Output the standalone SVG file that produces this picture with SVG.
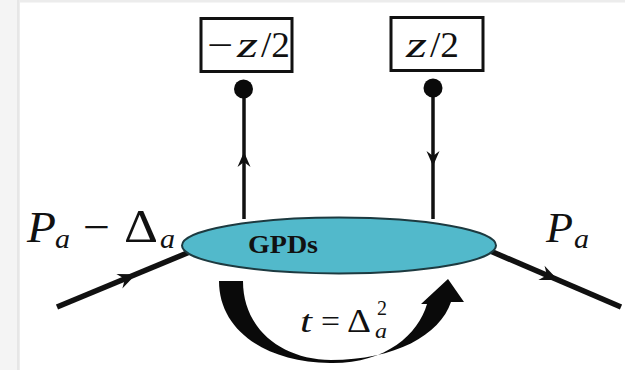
<svg xmlns="http://www.w3.org/2000/svg" width="625" height="370" viewBox="0 0 625 370">
<defs>
<style>
.math{font-family:"Liberation Serif","DejaVu Serif",serif;fill:#111}
.ln{stroke:#111;fill:none;stroke-linecap:butt}
.box{fill:#fff;stroke:#111;stroke-width:3}
</style>
<polygon id="ah" points="0,0 -15,-6.5 -10,0 -15,6.5" fill="#111"/>
</defs>
<rect x="0" y="0" width="625" height="370" fill="#fff"/>
<rect x="0" y="0" width="20" height="370" fill="#f4f4f4"/>
<rect x="17" y="0" width="2.5" height="370" fill="#e6e6e6"/>
<rect x="20" y="0" width="605" height="2.5" fill="#ececec"/>

<g id="connectors">
<line class="ln" x1="244" y1="95" x2="244" y2="219" stroke-width="3.5"/>
<use href="#ah" transform="translate(244,152) rotate(-90)"/>
<line class="ln" x1="433" y1="95" x2="433" y2="219" stroke-width="3.5"/>
<use href="#ah" transform="translate(433,166) rotate(90)"/>
<line class="ln" x1="57" y1="307" x2="192" y2="251" stroke-width="5.5"/>
<use href="#ah" transform="translate(136,274.3) rotate(-22.5) scale(1.2)"/>
<line class="ln" x1="488" y1="250" x2="621" y2="307" stroke-width="5.5"/>
<use href="#ah" transform="translate(558,280) rotate(23.3) scale(1.2)"/>
<path d="M219,281 C219,330 265,362 330,363 C385,364 418,335 427,304 L421,304 L448,279 L464,302 L451,302 C440,335 395,360 331,360 C280,359 243,328 243,281 Z" fill="#0a0a0a"/>
</g>

<g id="node-minus-z">
<rect class="box" x="201" y="18.5" width="91" height="53"/>
<text class="math" x="207" y="57" font-size="36" textLength="26" lengthAdjust="spacingAndGlyphs">−</text>
<text class="math" x="237" y="57" font-size="36" font-style="italic" textLength="21" lengthAdjust="spacingAndGlyphs">z</text>
<text class="math" x="261" y="57" font-size="36" textLength="29" lengthAdjust="spacingAndGlyphs">/2</text>
</g>
<g id="node-z">
<rect class="box" x="391" y="17.5" width="92" height="53"/>
<text class="math" x="406" y="57" font-size="36" font-style="italic" textLength="21" lengthAdjust="spacingAndGlyphs">z</text>
<text class="math" x="430" y="57" font-size="36" textLength="29" lengthAdjust="spacingAndGlyphs">/2</text>
</g>
<g id="dot-left"><circle cx="243.5" cy="89" r="9.5" fill="#0a0a0a"/></g>
<g id="dot-right"><circle cx="433" cy="88" r="9.5" fill="#0a0a0a"/></g>

<g id="node-gpds">
<ellipse cx="339" cy="245.5" rx="157" ry="28" fill="#52b9cb" stroke="#1d3a40" stroke-width="2"/>
<text x="248" y="253" font-family="'Liberation Serif','DejaVu Serif',serif" font-weight="bold" font-size="25" fill="#111" textLength="70" lengthAdjust="spacingAndGlyphs">GPDs</text>
</g>

<g id="label-in">
<text class="math" x="27" y="242" font-size="44" font-style="italic" textLength="29" lengthAdjust="spacingAndGlyphs">P</text>
<text class="math" x="55" y="248" font-size="28" font-style="italic" textLength="15" lengthAdjust="spacingAndGlyphs">a</text>
<text class="math" x="83" y="242" font-size="44" textLength="27" lengthAdjust="spacingAndGlyphs">−</text>
<text class="math" x="124" y="242" font-size="46" textLength="34" lengthAdjust="spacingAndGlyphs">Δ</text>
<text class="math" x="160" y="248" font-size="28" font-style="italic" textLength="15" lengthAdjust="spacingAndGlyphs">a</text>
</g>
<g id="label-out">
<text class="math" x="546" y="242" font-size="42" font-style="italic" textLength="27" lengthAdjust="spacingAndGlyphs">P</text>
<text class="math" x="574" y="248" font-size="28" font-style="italic" textLength="15" lengthAdjust="spacingAndGlyphs">a</text>
</g>
<g id="label-t">
<text class="math" x="300" y="332" font-size="32" font-style="italic" textLength="12" lengthAdjust="spacingAndGlyphs">t</text>
<text class="math" x="321" y="332" font-size="32" textLength="19" lengthAdjust="spacingAndGlyphs">=</text>
<text class="math" x="347" y="332" font-size="34" textLength="24" lengthAdjust="spacingAndGlyphs">Δ</text>
<text class="math" x="375" y="338" font-size="22" font-style="italic" textLength="12" lengthAdjust="spacingAndGlyphs">a</text>
<text class="math" x="377" y="315" font-size="22" textLength="10" lengthAdjust="spacingAndGlyphs">2</text>
</g>
</svg>
